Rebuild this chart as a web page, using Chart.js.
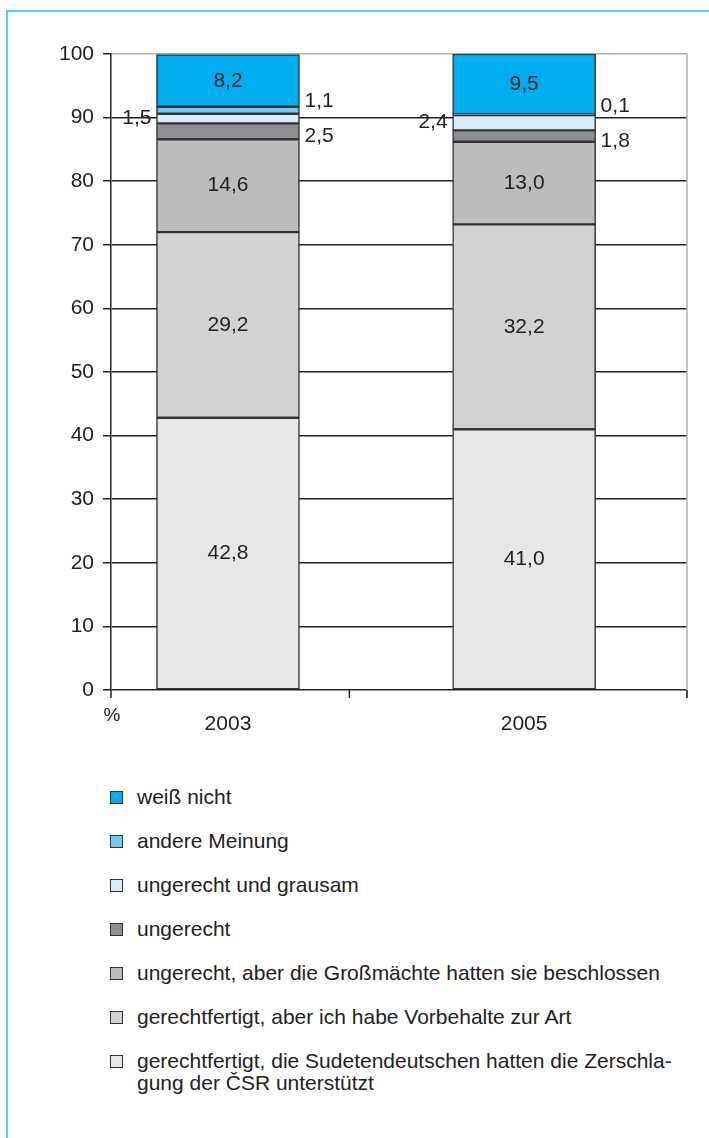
<!DOCTYPE html>
<html>
<head>
<meta charset="utf-8">
<script src="https://cdn.jsdelivr.net/npm/chart.js@4.4.0/dist/chart.umd.min.js"></script>
<style>
  body { margin: 0; background: #fff; width: 709px; height: 1138px; overflow: hidden; position: relative; font-family: "Liberation Sans", Arial, sans-serif; }
  #frame { position: absolute; left: 6px; top: 10px; width: 760px; height: 1200px; border: 2px solid #5ec8f0; box-sizing: border-box; }
  #chartBox { position: absolute; left: 0; top: 0; width: 709px; height: 760px; }
  #legend { position: absolute; left: 110px; top: 786px; width: 590px; color: #222; font-size: 21px; }
  .row { display: flex; align-items: flex-start; height: 44px; }
  .box { width: 11px; height: 11px; border: 1.5px solid #333; margin-top: 5px; margin-right: 14px; flex: none; }
  .txt { line-height: 22px; white-space: pre; }
</style>
</head>
<body>
<div id="frame"></div>
<div id="chartBox"><canvas id="chart" width="709" height="760"></canvas></div>
<div id="legend"></div>
<script>
// Daten
const years = [2003, 2005];
const yTicks = [0, 10, 20, 30, 40, 50, 60, 70, 80, 90, 100];

// Reihen von unten nach oben
const seriesNames = [
  'gerechtfertigt, die Sudetendeutschen hatten die Zerschla-\ngung der ČSR unterstützt',
  'gerechtfertigt, aber ich habe Vorbehalte zur Art',
  'ungerecht, aber die Großmächte hatten sie beschlossen',
  'ungerecht',
  'ungerecht und grausam',
  'andere Meinung',
  'weiß nicht'
];
const gerechtfertigtUnterstuetzt = [42.8, 41.0];
const gerechtfertigtVorbehalte = [29.2, 32.2];
const ungerechtGrossmaechte = [14.6, 13.0];
const ungerecht = [2.5, 1.8];
const ungerechtGrausam = [1.5, 2.4];
const andereMeinung = [1.1, 0.1];
const weissNicht = [8.2, 9.5];
const seriesValues = [gerechtfertigtUnterstuetzt, gerechtfertigtVorbehalte, ungerechtGrossmaechte,
  ungerecht, ungerechtGrausam, andereMeinung, weissNicht];

// Farben und Beschriftungsseite fuer kleine Werte
const seriesColors = ['#e6e7e8', '#d1d2d4', '#bbbcbe', '#8f9093', '#d7eef9', '#6dcbf3', '#00aeef'];
const labelSide = ['in', 'in', 'in', 'right', 'left', 'right', 'in'];
const labelNudge = [0, 0, 0, 5, 0, -9, 0];

const FONT = '"Liberation Sans", Arial, sans-serif';

const datasets = seriesNames.map((name, s) => ({
  label: name,
  data: years.map((yr, i) => ({ x: yr, y: seriesValues[s][i] })),
  backgroundColor: seriesColors[s],
  borderColor: '#333',
  borderWidth: 1.5,
  borderSkipped: false,
  barThickness: 143,
  labelSide: labelSide[s],
  labelNudge: labelNudge[s]
}));

// Zahlen in/neben den Segmenten, Rahmen rechts, Striche an der x-Achse
const extras = {
  id: 'extras',
  beforeDatasetsDraw(chart) {
    const ctx = chart.ctx;
    const a = chart.chartArea;
    const xs = chart.scales.x;
    ctx.save();
    ctx.lineWidth = 1.5;
    ctx.strokeStyle = '#b0b0b0';
    ctx.beginPath();
    ctx.moveTo(a.right, a.top);
    ctx.lineTo(a.right, a.bottom + 8);
    ctx.stroke();
    ctx.strokeStyle = '#222';
    [a.left, xs.getPixelForValue(2003.82), a.right].forEach(px => {
      ctx.beginPath();
      ctx.moveTo(px, a.bottom);
      ctx.lineTo(px, a.bottom + 8);
      ctx.stroke();
    });
    ctx.fillStyle = '#222';
    ctx.font = '19px ' + FONT;
    ctx.textAlign = 'center';
    ctx.textBaseline = 'middle';
    ctx.fillText('%', a.left + 1, a.bottom + 26);
    ctx.restore();
  },
  afterDatasetsDraw(chart) {
    const ctx = chart.ctx;
    ctx.save();
    ctx.font = '21px ' + FONT;
    ctx.fillStyle = '#222';
    ctx.textBaseline = 'middle';
    chart.data.datasets.forEach((ds, di) => {
      chart.getDatasetMeta(di).data.forEach((bar, i) => {
        const v = ds.data[i].y;
        const text = v.toFixed(1).replace('.', ',');
        const mid = (bar.y + bar.base) / 2 + ds.labelNudge;
        const half = bar.width / 2;
        if (ds.labelSide === 'in') {
          ctx.textAlign = 'center';
          ctx.fillText(text, bar.x, mid);
        } else if (ds.labelSide === 'left') {
          ctx.textAlign = 'right';
          ctx.fillText(text, bar.x - half - 5, mid);
        } else {
          ctx.textAlign = 'left';
          ctx.fillText(text, bar.x + half + 5, mid);
        }
      });
    });
    ctx.restore();
  }
};

new Chart(document.getElementById('chart'), {
  type: 'bar',
  data: { datasets: datasets },
  plugins: [extras],
  options: {
    responsive: false,
    animation: false,
    devicePixelRatio: 1,
    layout: { padding: { top: 54, right: 22, left: 0, bottom: 0 } },
    plugins: { legend: { display: false }, tooltip: { enabled: false } },
    scales: {
      x: {
        type: 'linear',
        stacked: true,
        offset: false,
        bounds: 'data',
        min: 2002.21,
        max: 2006.1,
        afterBuildTicks: scale => { scale.ticks = years.map(v => ({ value: v })); },
        afterFit: scale => { scale.height = 70; },
        grid: { display: false, drawTicks: false, offset: false },
        border: { display: false },
        ticks: {
          callback: v => String(v),
          color: '#222',
          font: { family: FONT, size: 21 },
          padding: 22,
          maxRotation: 0,
          autoSkip: false
        }
      },
      y: {
        stacked: true,
        min: 0,
        max: 100,
        afterBuildTicks: scale => { scale.ticks = yTicks.map(v => ({ value: v })); },
        afterFit: scale => { scale.width = 111; },
        grid: {
          color: c => (c.tick && c.tick.value === 100 ? '#b0b0b0' : '#222'),
          tickColor: '#222',
          lineWidth: 1.5,
          tickLength: 8
        },
        border: { color: '#222', width: 1.5 },
        ticks: {
          color: '#222',
          font: { family: FONT, size: 21 },
          padding: 9
        }
      }
    }
  }
});

// Legende (oben "weiß nicht", unten die groesste Gruppe)
const legend = document.getElementById('legend');
for (let s = seriesNames.length - 1; s >= 0; s--) {
  const row = document.createElement('div');
  row.className = 'row';
  row.innerHTML = '<div class="box" style="background:' + seriesColors[s] + '"></div><div class="txt"></div>';
  row.querySelector('.txt').textContent = seriesNames[s];
  legend.appendChild(row);
}
</script>
</body>
</html>
